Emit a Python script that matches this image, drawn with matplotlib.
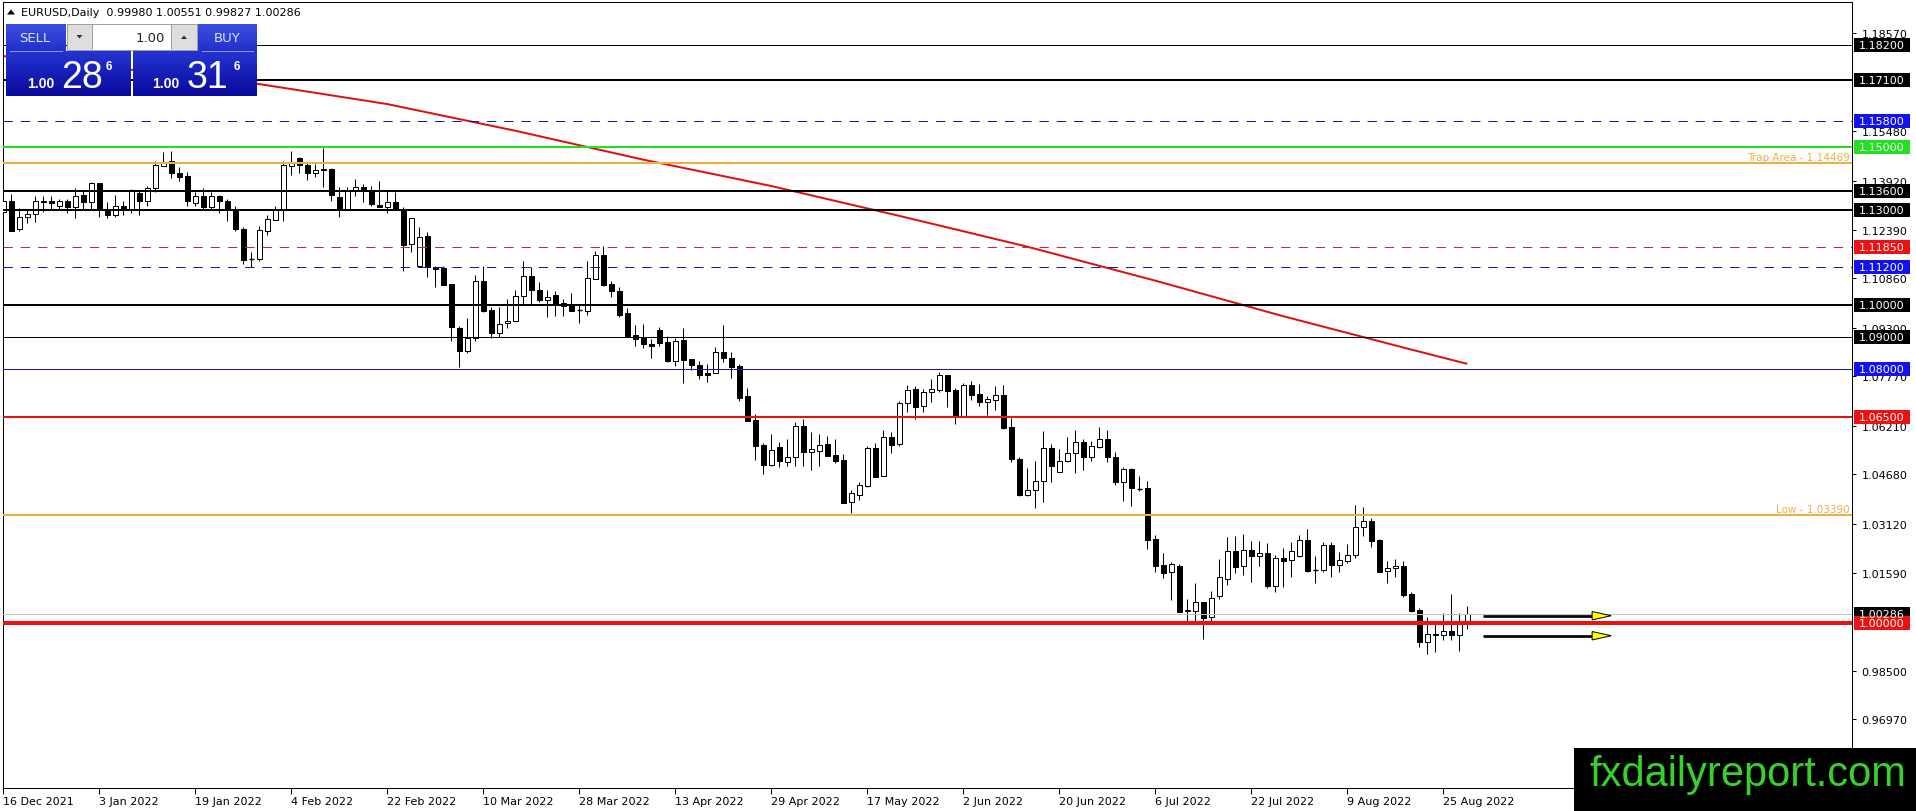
import numpy as np
import matplotlib
matplotlib.use("Agg")
import matplotlib.pyplot as plt
from matplotlib.patches import Rectangle, Polygon
from matplotlib.colors import LinearSegmentedColormap
from matplotlib.transforms import blended_transform_factory

plt.rcParams["font.family"] = ["DejaVu Sans"]

# ---- data (EURUSD daily, 16 Dec 2021 - 30 Aug 2022) ----
opens = [
    1.1293, 1.1330, 1.1241, 1.1277, 1.1288, 1.1326, 1.1328, 1.1314, 1.1328, 1.1309,
    1.1348, 1.1325, 1.1384, 1.1300, 1.1286, 1.1314, 1.1302, 1.1353, 1.1328, 1.1370,
    1.1440, 1.1454, 1.1416, 1.1409, 1.1322, 1.1344, 1.1311, 1.1344, 1.1328, 1.1302,
    1.1241, 1.1147, 1.1146, 1.1235, 1.1270, 1.1304, 1.1440, 1.1464, 1.1442, 1.1416,
    1.1430, 1.1430, 1.1340, 1.1304, 1.1361, 1.1372, 1.1359, 1.1317, 1.1309, 1.1325,
    1.1304, 1.1193, 1.1125, 1.1218, 1.1122, 1.1118, 1.1067, 1.0928, 1.0855, 1.0899,
    1.1078, 1.0987, 1.0912, 1.0944, 1.0950, 1.1031, 1.1092, 1.1050, 1.1018, 1.1033,
    1.1008, 1.1001, 1.0986, 1.0983, 1.1083, 1.1159, 1.1067, 1.1044, 1.0975, 1.0907,
    1.0899, 1.0878, 1.0922, 1.0884, 1.0826, 1.0891, 1.0831, 1.0812, 1.0787, 1.0786,
    1.0852, 1.0833, 1.0808, 1.0714, 1.0639, 1.0560, 1.0498, 1.0553, 1.0508, 1.0522,
    1.0621, 1.0540, 1.0543, 1.0564, 1.0529, 1.0513, 1.0380, 1.0404, 1.0432, 1.0551,
    1.0462, 1.0585, 1.0564, 1.0692, 1.0737, 1.0682, 1.0729, 1.0735, 1.0781, 1.0734,
    1.0653, 1.0749, 1.0721, 1.0695, 1.0703, 1.0718, 1.0616, 1.0516, 1.0404, 1.0419,
    1.0446, 1.0550, 1.0474, 1.0511, 1.0534, 1.0569, 1.0522, 1.0553, 1.0581, 1.0522,
    1.0443, 1.0485, 1.0424, 1.0424, 1.0264, 1.0182, 1.0161, 1.0180, 1.0041, 1.0037,
    1.0065, 1.0018, 1.0084, 1.0138, 1.0226, 1.0178, 1.0230, 1.0212, 1.0220, 1.0117,
    1.0204, 1.0198, 1.0212, 1.0261, 1.0168, 1.0167, 1.0246, 1.0183, 1.0196, 1.0214,
    1.0301, 1.0320, 1.0261, 1.0163, 1.0172, 1.0178, 1.0091, 1.0041, 0.9941, 0.9967,
    0.9963, 0.9974, 0.9963, 0.99980,
]
highs = [
    1.1335, 1.1351, 1.1306, 1.1302, 1.1344, 1.1344, 1.1344, 1.1335, 1.1335, 1.1370,
    1.1361, 1.1390, 1.1384, 1.1325, 1.1348, 1.1330, 1.1367, 1.1360, 1.1375, 1.1456,
    1.1482, 1.1485, 1.1435, 1.1421, 1.1356, 1.1369, 1.1356, 1.1348, 1.1335, 1.1314,
    1.1246, 1.1167, 1.1251, 1.1286, 1.1314, 1.1456, 1.1487, 1.1466, 1.1451, 1.1445,
    1.1496, 1.1433, 1.1372, 1.1372, 1.1398, 1.1382, 1.1377, 1.1391, 1.1361, 1.1356,
    1.1311, 1.1275, 1.1246, 1.1230, 1.1125, 1.1125, 1.1067, 1.0936, 1.0962, 1.1096,
    1.1123, 1.0994, 1.0994, 1.1020, 1.1049, 1.1139, 1.1120, 1.1073, 1.1049, 1.1044,
    1.1020, 1.1039, 1.1000, 1.1139, 1.1172, 1.1186, 1.1076, 1.1057, 1.0991, 1.0938,
    1.0941, 1.0894, 1.0933, 1.0905, 1.0899, 1.0928, 1.0831, 1.0825, 1.0815, 1.0868,
    1.0938, 1.0852, 1.0815, 1.0739, 1.0658, 1.0567, 1.0595, 1.0569, 1.0579, 1.0634,
    1.0642, 1.0600, 1.0595, 1.0588, 1.0579, 1.0531, 1.0420, 1.0445, 1.0556, 1.0567,
    1.0608, 1.0600, 1.0700, 1.0749, 1.0747, 1.0737, 1.0768, 1.0789, 1.0781, 1.0740,
    1.0755, 1.0763, 1.0753, 1.0716, 1.0747, 1.0749, 1.0645, 1.0522, 1.0488, 1.0511,
    1.0604, 1.0564, 1.0548, 1.0587, 1.0608, 1.0581, 1.0572, 1.0616, 1.0608, 1.0537,
    1.0490, 1.0488, 1.0464, 1.0448, 1.0277, 1.0222, 1.0191, 1.0186, 1.0076, 1.0125,
    1.0065, 1.0100, 1.0201, 1.0272, 1.0275, 1.0280, 1.0259, 1.0257, 1.0252, 1.0214,
    1.0235, 1.0256, 1.0277, 1.0296, 1.0210, 1.0256, 1.0256, 1.0225, 1.0249, 1.0372,
    1.0366, 1.0330, 1.0265, 1.0196, 1.0202, 1.0196, 1.0097, 1.0046, 1.0018, 0.9997,
    1.0031, 1.0091, 1.0031, 1.00551,
]
lows = [
    1.1286, 1.1235, 1.1235, 1.1260, 1.1264, 1.1293, 1.1304, 1.1304, 1.1290, 1.1274,
    1.1304, 1.1304, 1.1279, 1.1274, 1.1277, 1.1286, 1.1290, 1.1286, 1.1314, 1.1356,
    1.1440, 1.1400, 1.1393, 1.1314, 1.1314, 1.1304, 1.1304, 1.1291, 1.1265, 1.1235,
    1.1132, 1.1120, 1.1139, 1.1223, 1.1269, 1.1267, 1.1412, 1.1416, 1.1396, 1.1403,
    1.1374, 1.1330, 1.1279, 1.1302, 1.1346, 1.1325, 1.1314, 1.1309, 1.1290, 1.1302,
    1.1107, 1.1167, 1.1124, 1.1091, 1.1059, 1.1065, 1.0889, 1.0807, 1.0849, 1.0889,
    1.0978, 1.0899, 1.0901, 1.0928, 1.0950, 1.1001, 1.1001, 1.1012, 1.0963, 1.0966,
    1.0968, 1.0981, 1.0945, 1.0970, 1.1083, 1.1062, 1.1028, 1.0963, 1.0903, 1.0873,
    1.0865, 1.0834, 1.0873, 1.0823, 1.0810, 1.0756, 1.0798, 1.0768, 1.0760, 1.0786,
    1.0823, 1.0770, 1.0698, 1.0635, 1.0514, 1.0469, 1.0493, 1.0490, 1.0493, 1.0493,
    1.0493, 1.0483, 1.0495, 1.0527, 1.0503, 1.0378, 1.0348, 1.0388, 1.0429, 1.0461,
    1.0462, 1.0534, 1.0558, 1.0663, 1.0642, 1.0663, 1.0697, 1.0726, 1.0679, 1.0627,
    1.0648, 1.0703, 1.0684, 1.0655, 1.0672, 1.0611, 1.0506, 1.0401, 1.0401, 1.0361,
    1.0382, 1.0445, 1.0474, 1.0506, 1.0472, 1.0483, 1.0511, 1.0550, 1.0506, 1.0436,
    1.0383, 1.0367, 1.0417, 1.0233, 1.0161, 1.0142, 1.0072, 1.0034, 1.0004, 1.0004,
    0.9950, 1.0007, 1.0075, 1.0120, 1.0156, 1.0151, 1.0130, 1.0181, 1.0109, 1.0097,
    1.0114, 1.0146, 1.0207, 1.0162, 1.0126, 1.0160, 1.0144, 1.0160, 1.0189, 1.0204,
    1.0275, 1.0238, 1.0160, 1.0125, 1.0146, 1.0081, 1.0034, 0.9926, 0.9902, 0.9910,
    0.9947, 0.9947, 0.9913, 0.99827,
]
closes = [
    1.1330, 1.1235, 1.1277, 1.1288, 1.1328, 1.1328, 1.1321, 1.1328, 1.1309, 1.1346,
    1.1325, 1.1384, 1.1304, 1.1286, 1.1314, 1.1302, 1.1360, 1.1328, 1.1370, 1.1442,
    1.1448, 1.1416, 1.1405, 1.1328, 1.1344, 1.1311, 1.1344, 1.1328, 1.1304, 1.1241,
    1.1143, 1.1146, 1.1237, 1.1272, 1.1304, 1.1442, 1.1447, 1.1442, 1.1416, 1.1426,
    1.1426, 1.1349, 1.1302, 1.1361, 1.1372, 1.1359, 1.1319, 1.1309, 1.1325, 1.1302,
    1.1191, 1.1274, 1.1216, 1.1122, 1.1115, 1.1065, 1.0933, 1.0855, 1.0896, 1.1078,
    1.0983, 1.0912, 1.0943, 1.0950, 1.1031, 1.1092, 1.1050, 1.1018, 1.1028, 1.1001,
    1.0997, 1.0983, 1.0985, 1.1085, 1.1159, 1.1064, 1.1046, 1.0970, 1.0903, 1.0894,
    1.0878, 1.0873, 1.0882, 1.0826, 1.0887, 1.0829, 1.0813, 1.0782, 1.0782, 1.0852,
    1.0833, 1.0805, 1.0710, 1.0637, 1.0558, 1.0498, 1.0545, 1.0509, 1.0522, 1.0621,
    1.0539, 1.0548, 1.0561, 1.0527, 1.0511, 1.0378, 1.0408, 1.0434, 1.0551, 1.0461,
    1.0585, 1.0561, 1.0692, 1.0735, 1.0679, 1.0729, 1.0737, 1.0781, 1.0731, 1.0655,
    1.0749, 1.0719, 1.0695, 1.0705, 1.0718, 1.0614, 1.0516, 1.0403, 1.0419, 1.0446,
    1.0550, 1.0495, 1.0509, 1.0534, 1.0569, 1.0522, 1.0556, 1.0581, 1.0522, 1.0443,
    1.0485, 1.0425, 1.0423, 1.0262, 1.0180, 1.0159, 1.0185, 1.0036, 1.0037, 1.0065,
    1.0016, 1.0078, 1.0144, 1.0226, 1.0177, 1.0230, 1.0212, 1.0220, 1.0117, 1.0204,
    1.0196, 1.0226, 1.0261, 1.0165, 1.0167, 1.0246, 1.0184, 1.0198, 1.0214, 1.0301,
    1.0320, 1.0259, 1.0162, 1.0172, 1.0178, 1.0088, 1.0039, 0.9941, 0.9967, 0.9963,
    0.9974, 0.9963, 0.9997, 1.00286,
]

# moving average (red line), sampled along the curve
ma_bars = [0, 16, 32, 48, 64, 80, 96, 112, 128, 144, 160, 176, 183]
ma_values = [1.1785, 1.1742, 1.1697, 1.1634, 1.1550, 1.1459, 1.1376, 1.1282,
             1.1185, 1.1078, 1.0966, 1.0861, 1.0816]

# horizontal levels drawn on the chart
level_prices = [1.18200, 1.17100, 1.15800, 1.15000, 1.14469, 1.13600, 1.13000,
                1.11850, 1.11200, 1.10000, 1.09000, 1.08000, 1.06500, 1.03390, 1.00000]
level_notes = {1.14469: "Trap Area", 1.03390: "Low"}

price_ticks = [1.18570, 1.15480, 1.13920, 1.12390, 1.10860, 1.09300, 1.07770,
               1.06210, 1.04680, 1.03120, 1.01590, 0.98500, 0.96970]

date_bars = list(range(0, 181, 12))
date_labels = ["16 Dec 2021", "3 Jan 2022", "19 Jan 2022", "4 Feb 2022", "22 Feb 2022",
               "10 Mar 2022", "28 Mar 2022", "13 Apr 2022", "29 Apr 2022", "17 May 2022",
               "2 Jun 2022", "20 Jun 2022", "6 Jul 2022", "22 Jul 2022", "9 Aug 2022",
               "25 Aug 2022"]

arrow_prices = [1.0023, 0.9960]
arrow_span = (185, 201)

bid, ask, lot = 1.00286, 1.00316, 1.00

# ---- styles ----
NAVY = "#1616a0"
BLUE = "#1212ee"
RED = "#ee1111"
GREEN = "#22e022"
ORANGE = "#eeae45"
# (line colour, width in px, dashed, axis box colour)
LEVEL_STYLE = {
    1.18200: ("black", 1, False, "black"),
    1.17100: ("black", 2, False, "black"),
    1.15800: (NAVY, 1, True, BLUE),
    1.15000: (GREEN, 2, False, GREEN),
    1.14469: (ORANGE, 2, False, None),
    1.13600: ("black", 2, False, "black"),
    1.13000: ("black", 2, False, "black"),
    1.11850: ("#dd2020", 1, True, RED),
    1.11200: (NAVY, 1, True, BLUE),
    1.10000: ("black", 2, False, "black"),
    1.09000: ("black", 1, False, "black"),
    1.08000: ("#1a1ab8", 1, False, BLUE),
    1.06500: (RED, 2, False, RED),
    1.03390: (ORANGE, 2, False, None),
    1.00000: (RED, 4, False, RED),
}

W, H = 1916, 812
AX_L, AX_R, AX_T, AX_B = 2.5, 1852, 3, 789
BAR_PX = 8
PX_PER_PRICE = 3176
PX = 0.72  # one pixel in points

fig = plt.figure(figsize=(W / 100, H / 100), dpi=100)
ax = fig.add_axes([AX_L / W, 1 - AX_B / H, (AX_R - AX_L) / W, (AX_B - AX_T) / H])
x_lo = -0.1
ax.set_xlim(x_lo, x_lo + (AX_R - AX_L) / BAR_PX)
ax.set_ylim(1.182 - (AX_B - 46) / PX_PER_PRICE, 1.182 + (46 - AX_T) / PX_PER_PRICE)


def fx(px):
    return (px - AX_L) / (AX_R - AX_L)


# candles
o = np.array(opens)
h = np.array(highs)
l = np.array(lows)
c = np.array(closes)
bars = np.arange(len(o))
ax.vlines(bars, l, h, color="black", lw=PX, zorder=3)
for i in bars:
    top, bot = max(o[i], c[i]), min(o[i], c[i])
    if top - bot < 0.00012:
        ax.hlines((o[i] + c[i]) / 2, i - 0.32, i + 0.32, color="black", lw=PX * 1.4, zorder=4)
        continue
    face = "white" if c[i] > o[i] else "black"
    ax.add_patch(Rectangle((i - 0.3, bot), 0.6, top - bot, facecolor=face,
                           edgecolor="black", lw=PX, zorder=4))

# moving average
ax.plot(ma_bars, ma_values, color="#dd1111", lw=2 * PX, zorder=4.5, solid_capstyle="butt")

# level lines
blend = blended_transform_factory(ax.transAxes, ax.transData)
for p in level_prices:
    col, wpx, dashed, _ = LEVEL_STYLE[p]
    ls = (0, (13 / 1.39, 11 / 1.39)) if dashed else "-"
    ax.axhline(p, color=col, lw=wpx * PX, ls=ls, zorder=5)
    if p in level_notes:
        ax.text(fx(1850), p + 1.5 / PX_PER_PRICE, f"{level_notes[p]} - {p:.5f}",
                transform=blend, ha="right", va="bottom", color=ORANGE, fontsize=7.5, zorder=6)

# bid line
ax.axhline(bid, color="#b8c6b8", lw=PX, zorder=5)

# arrows
head_h = 4.2 / PX_PER_PRICE
for p in arrow_prices:
    x0, x1 = arrow_span
    xh = x1 - 2.4
    ax.plot([x0, xh], [p, p], color="black", lw=2.7 * PX, zorder=6, solid_capstyle="butt")
    ax.add_patch(Polygon([[xh, p + head_h], [x1, p], [xh, p - head_h]], closed=True,
                         facecolor="#ffff00", edgecolor="black", lw=PX, zorder=7))

# axes
for s in ax.spines.values():
    s.set_linewidth(PX)
    s.set_color("black")
ax.yaxis.tick_right()
ax.set_yticks(price_ticks)
ax.set_yticklabels([f"{v:.5f}" for v in price_ticks])
ax.tick_params(axis="y", length=3, width=PX, pad=4, labelsize=8, colors="black")
ax.set_xticks(date_bars)
ax.set_xticklabels(date_labels)
ax.tick_params(axis="x", length=4, width=PX, pad=2, labelsize=8)
for lbl in ax.get_xticklabels():
    lbl.set_ha("left")

# price boxes on the right scale
box_h = 14 / PX_PER_PRICE
boxes = [(p, LEVEL_STYLE[p][3]) for p in level_prices if LEVEL_STYLE[p][3] and p != 1.0]
boxes += [(bid, "black"), (1.0, LEVEL_STYLE[1.0][3])]
for p, col in boxes:
    ax.add_patch(Rectangle((fx(1854), p - box_h / 2), 56 / (AX_R - AX_L), box_h,
                           transform=blend, facecolor=col, edgecolor="none",
                           clip_on=False, zorder=8))
    ax.text(fx(1859), p, f"{p:.5f}", transform=blend, ha="left", va="center",
            color="white", fontsize=8, clip_on=False, zorder=9)

# ---- overlay: one-click trading panel, title, watermark ----
ui = fig.add_axes([0, 0, 1, 1], zorder=10)
ui.patch.set_alpha(0)


def grad_box(x0, y0, x1, y1, c_top, c_bot):
    cmap = LinearSegmentedColormap.from_list("g", [c_top, c_bot])
    ui.imshow(np.linspace(0, 1, 64).reshape(-1, 1), cmap=cmap, aspect="auto",
              extent=(x0, x1, y1, y0), interpolation="bilinear", zorder=1)


grad_box(6, 25, 66, 52, "#3c4ee2", "#2130cc")
grad_box(6, 52, 131, 97, "#2434d2", "#0a0a9c")
grad_box(198, 25, 257, 52, "#3c4ee2", "#2130cc")
grad_box(133, 52, 257, 97, "#2434d2", "#0a0a9c")
ui.plot([10, 62], [52, 52], color="#8d97e6", lw=PX, zorder=2)
ui.plot([202, 253], [52, 52], color="#8d97e6", lw=PX, zorder=2)

ui.add_patch(Rectangle((67, 25), 130, 26, facecolor="white", edgecolor="#a0a0a0", lw=PX, zorder=2))
ui.add_patch(Rectangle((67, 25), 25, 26, facecolor="#dedede", edgecolor="#a0a0a0", lw=PX, zorder=3))
ui.add_patch(Rectangle((171, 25), 26, 26, facecolor="#dedede", edgecolor="#a0a0a0", lw=PX, zorder=3))
ui.add_patch(Polygon([[76.5, 36], [82.5, 36], [79.5, 39.5]], facecolor="#303030", edgecolor="none", zorder=4))
ui.add_patch(Polygon([[181, 40], [187, 40], [184, 36.5]], facecolor="#303030", edgecolor="none", zorder=4))
ui.text(165, 38.5, f"{lot:.2f}", ha="right", va="center", fontsize=9.5, color="#222222", zorder=4)

ui.text(35, 39, "SELL", ha="center", va="center", fontsize=9.5, color="#dde1ff", zorder=4)
ui.text(227, 39, "BUY", ha="center", va="center", fontsize=9.5, color="#dde1ff", zorder=4)

for quote, x_head, x_big, x_pip in [(bid, 27, 61, 106), (ask, 152, 187, 234)]:
    s = f"{quote:.5f}"
    ui.text(x_head, 88, s[:4], ha="left", va="baseline", fontsize=10, fontweight="bold",
            family="Liberation Sans", color="white", zorder=4)
    ui.text(x_big, 88, s[4:6], ha="left", va="baseline", fontsize=27,
            family="Liberation Sans", color="white", zorder=4)
    ui.text(x_pip, 61, s[6], ha="left", va="top", fontsize=8.5, fontweight="bold",
            family="Liberation Sans", color="white", zorder=4)

ui.add_patch(Polygon([[7, 15.5], [15, 15.5], [11, 10.5]], facecolor="black", edgecolor="none", zorder=4))
ui.text(21, 13, "EURUSD,Daily  " + " ".join(f"{v:.5f}" for v in (opens[-1], highs[-1], lows[-1], closes[-1])),
        ha="left", va="center", fontsize=8, color="black", zorder=4)

ui.add_patch(Rectangle((1574, 749), W - 1574, H - 749, facecolor="black", edgecolor="none", zorder=5))
ui.text(1589, 786, "fxdailyreport.com", ha="left", va="baseline", fontsize=30,
        family="Liberation Sans", color="#37d12b", zorder=6)

ui.set_xlim(0, W)
ui.set_ylim(H, 0)
ui.axis("off")

fig.savefig("out.png", dpi=100)
